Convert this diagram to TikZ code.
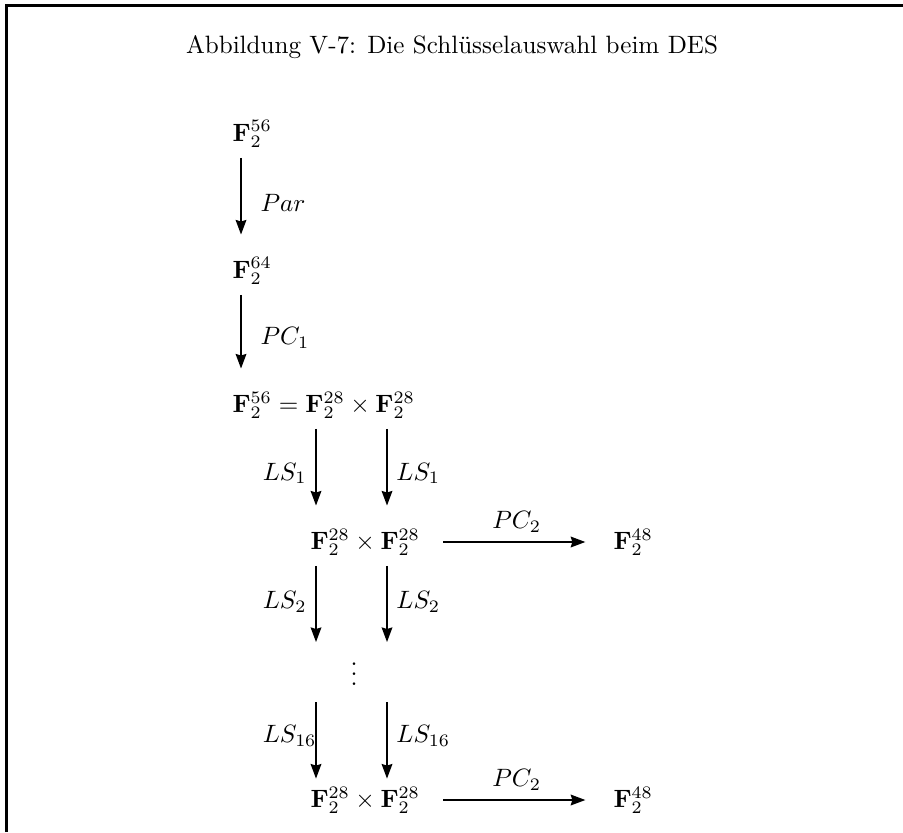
\documentclass[tikz,border=0pt]{standalone}
\usepackage{amsmath,amssymb}
\usepackage{mathtools}
\usetikzlibrary{arrows.meta,positioning,calc}

\begin{document}
\begin{tikzpicture}[
  x=0.014cm, y=-0.014cm,
  term/.style={inner sep=0pt, anchor=west},
  arr/.style={-{Stealth[length=5.8pt,width=4.2pt,inset=0.6pt]}, line width=0.9pt},
  down/.style={arr, shorten <=4pt, shorten >=9pt},
  across/.style={arr, shorten <=9pt, shorten >=11pt}
]
\useasboundingbox (0,0) rectangle (903,832);
\draw[line width=0.9pt] (6.5,832) -- (6.5,5.5) -- (903,5.5);

\node (title) at (452,47) {Abbildung V-7: Die Schlüsselauswahl beim DES};

\node[term] (k56)     at (232,134) {$\mathbf{F}_2^{56}$};
\node[term] (k64)     at (232,271) {$\mathbf{F}_2^{64}$};
\node[term] (split)   at (232,405) {$\mathbf{F}_2^{56} = \mathbf{F}_2^{28} \times \mathbf{F}_2^{28}$};
\node[term] (round1)  at (310,542) {$\mathbf{F}_2^{28} \times \mathbf{F}_2^{28}$};
\node[term] (sub1)    at (613,542) {$\mathbf{F}_2^{48}$};
\node[inner sep=0pt] (dots) at (354,667) {$\vdots$};
\node[term] (round16) at (310,800) {$\mathbf{F}_2^{28} \times \mathbf{F}_2^{28}$};
\node[term] (sub16)   at (613,800) {$\mathbf{F}_2^{48}$};

% columns of the key and of its two halves
\coordinate (kcol)  at (241,0);
\coordinate (lhalf) at (316,0);
\coordinate (rhalf) at (387,0);

\draw[down] (k56.south -| kcol) -- node[right=4pt]{$Par$} (k64.north -| kcol);
\draw[down] (k64.south -| kcol) -- node[right=4pt]{$PC_1$} (split.north -| kcol);

\draw[down] (split.south -| lhalf) -- node[left]{$LS_1$} (round1.north -| lhalf);
\draw[down] (split.south -| rhalf) -- node[right]{$LS_1$} (round1.north -| rhalf);
\draw[across] (round1) -- node[above]{$PC_2$} (sub1);

\draw[down, shorten >=2.2pt] (round1.south -| lhalf) -- node[left]{$LS_2$} (dots.north -| lhalf);
\draw[down, shorten >=2.2pt] (round1.south -| rhalf) -- node[right]{$LS_2$} (dots.north -| rhalf);

\draw[down, shorten <=6.4pt, shorten >=3pt] (dots.south -| lhalf) -- node[left]{$LS_{1\mathrlap{6}}$} (round16.north -| lhalf);
\draw[down, shorten <=6.4pt, shorten >=3pt] (dots.south -| rhalf) -- node[right]{$LS_{16}$} (round16.north -| rhalf);
\draw[across] (round16) -- node[above]{$PC_2$} (sub16);
\end{tikzpicture}
\end{document}
